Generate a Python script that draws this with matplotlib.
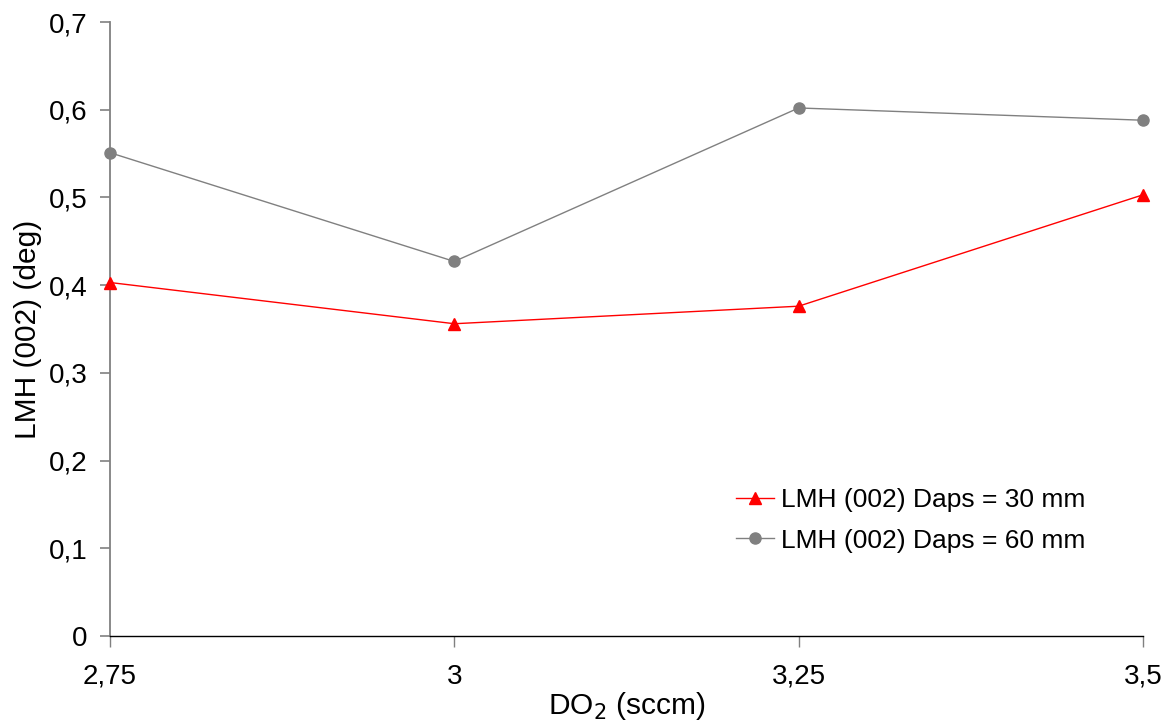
import matplotlib.pyplot as plt

plt.rcParams['font.family'] = ['Liberation Sans', 'DejaVu Sans']

do2 = [2.75, 3.0, 3.25, 3.5]
lmh_30mm = [0.403, 0.356, 0.376, 0.503]
lmh_60mm = [0.551, 0.427, 0.602, 0.588]
x_ticks = [2.75, 3.0, 3.25, 3.5]
x_tick_labels = ['2,75', '3', '3,25', '3,5']
y_ticks = [0, 0.1, 0.2, 0.3, 0.4, 0.5, 0.6, 0.7]
y_tick_labels = ['0', '0,1', '0,2', '0,3', '0,4', '0,5', '0,6', '0,7']

fig = plt.figure(figsize=(11.65, 7.22), dpi=100)
ax = fig.add_axes([110 / 1165, 1 - 636 / 722, (1143 - 110) / 1165, (636 - 22) / 722])

ax.plot(do2, lmh_30mm, color='#ff0000', lw=1.0, marker='^', markersize=9,
        label='LMH (002) Daps = 30 mm', clip_on=False, zorder=3)
ax.plot(do2, lmh_60mm, color='#808080', lw=1.0, marker='o', markersize=8,
        label='LMH (002) Daps = 60 mm', clip_on=False, zorder=3)

ax.set_xlim(2.75, 3.5)
ax.set_ylim(0, 0.7)
ax.set_xticks(x_ticks)
ax.set_xticklabels(x_tick_labels)
ax.set_yticks(y_ticks)
ax.set_yticklabels(y_tick_labels)

for side in ['top', 'right']:
    ax.spines[side].set_visible(False)
ax.spines['left'].set_color('#808080')
ax.spines['left'].set_linewidth(1.3)
ax.spines['bottom'].set_color('black')
ax.spines['bottom'].set_linewidth(1.0)

ax.tick_params(axis='y', direction='out', length=7, width=1.2, color='#808080',
               labelsize=20, pad=9)
ax.tick_params(axis='x', direction='out', length=8, width=1.0, color='#808080',
               labelsize=20, pad=12)

ax.set_xlabel('DO$_2$ (sccm)', fontsize=21.5, labelpad=0)
ax.set_ylabel('LMH (002) (deg)', fontsize=21.5, labelpad=5)

ax.legend(loc='upper left', bbox_to_anchor=(0.596, 0.258), frameon=False,
          fontsize=19, handlelength=1.45, handletextpad=0.25, labelspacing=0.62,
          borderaxespad=0)

fig.savefig('out.png', dpi=100)
